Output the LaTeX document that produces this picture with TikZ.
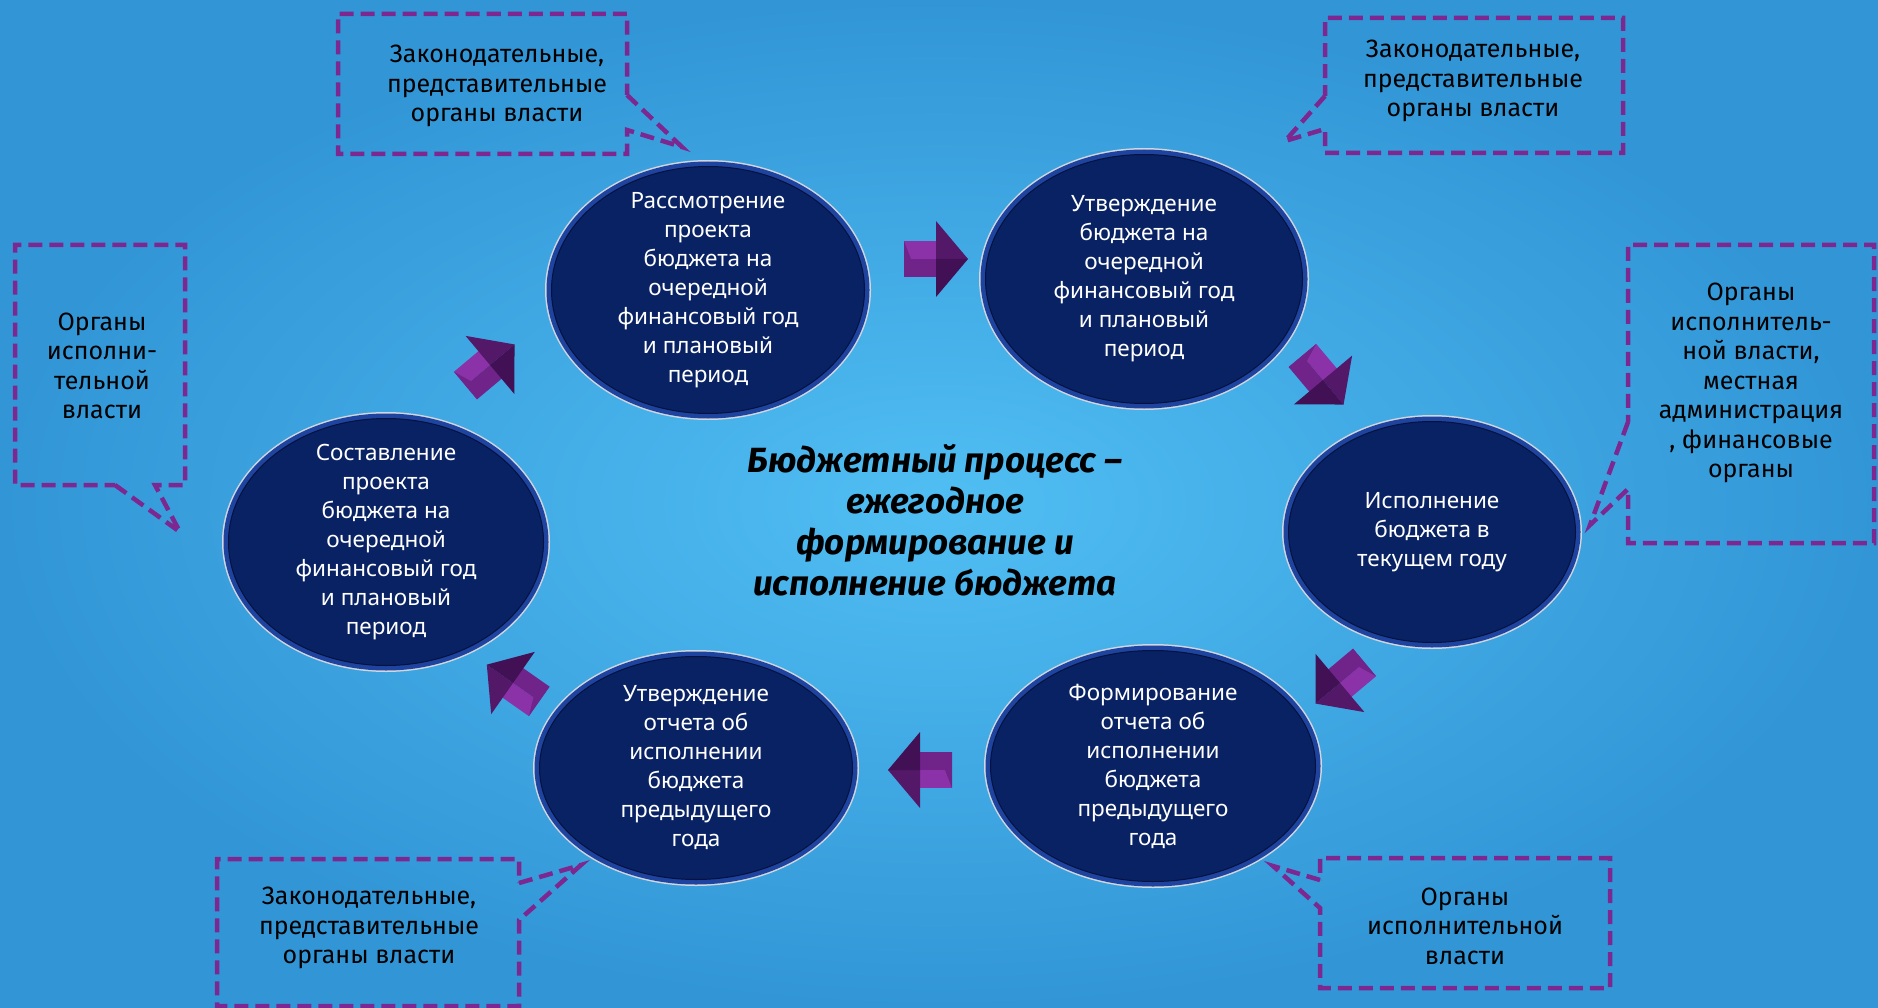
\documentclass[tikz,border=0pt]{standalone}
\usepackage{fontspec}
\usetikzlibrary{shapes.geometric}

\newfontfamily\stagefont{Noto Sans}
\newfontfamily\callfont{Fira Sans}
\newfontfamily\titlefont{Fira Sans}

\definecolor{bginner}{RGB}{80,190,243}
\definecolor{bgouter}{RGB}{50,150,214}
\definecolor{navyfill}{RGB}{9,34,100}
\definecolor{navyline}{RGB}{4,18,62}
\definecolor{ringblue}{RGB}{30,68,160}
\definecolor{rimgray}{RGB}{210,214,222}
\definecolor{dashpurple}{RGB}{125,40,145}
\definecolor{arrowlight}{RGB}{140,50,168}
\definecolor{arrowmid}{RGB}{112,36,138}
\definecolor{arrowdark}{RGB}{84,24,104}
\definecolor{arrowdeep}{RGB}{66,16,84}

\newcommand{\budgetarrow}[3]{%
  \begin{scope}[shift={(#1,#2)}, rotate=#3]
    \fill[arrowlight] (-32,-18) rectangle (2,0);
    \fill[arrowmid] (-32,0) rectangle (2,18);
    \fill[arrowmid] (-32,-18) -- (-25,0) -- (-32,18) -- cycle;
    \fill[arrowdark] (0,-38) -- (32,0) -- (0,0) -- cycle;
    \fill[arrowdeep] (0,0) -- (32,0) -- (0,38) -- cycle;
  \end{scope}}

\tikzset{
  stage/.style={ellipse, inner sep=0pt, fill=navyfill, draw=navyline, line width=1pt,
    preaction={draw=rimgray, line width=13pt},
    preaction={draw=ringblue, line width=10pt}},
  stagetext/.style={text=white, align=center, font=\stagefont\fontsize{22.5}{29}\selectfont},
  calltext/.style={align=center, font=\callfont\fontsize{25}{29.5}\selectfont},
  titletext/.style={align=center, font=\titlefont\bfseries\itshape\fontsize{35}{41}\selectfont},
  callout/.style={draw=dashpurple, line width=4.5pt, dash pattern=on 14pt off 7pt}
}

\begin{document}
\begin{tikzpicture}[x=1pt, y=-1pt]
\useasboundingbox (0,0) rectangle (1878,1008);
\shade[inner color=bginner, outer color=bgouter] (0,0) rectangle (1878,1008);

% stages
\node[stage, minimum width=313, minimum height=247] (review) at (708,290) {};
\node[stage, minimum width=317, minimum height=249] (approve) at (1144,279) {};
\node[stage, minimum width=287, minimum height=221] (execute) at (1432,532) {};
\node[stage, minimum width=325, minimum height=231] (report) at (1153,766) {};
\node[stage, minimum width=313, minimum height=223] (repapprove) at (696,768) {};
\node[stage, minimum width=315, minimum height=247] (draft) at (386,542) {};

\node[stagetext] (reviewtext) at (review) {Рассмотрение\\проекта\\бюджета на\\очередной\\финансовый год\\и плановый\\период};
\node[stagetext] (approvetext) at (approve) {Утверждение\\бюджета на\\очередной\\финансовый год\\и плановый\\период};
\node[stagetext] (executetext) at (execute) {Исполнение\\бюджета в\\текущем году};
\node[stagetext] (reporttext) at (report) {Формирование\\отчета об\\исполнении\\бюджета\\предыдущего\\года};
\node[stagetext] (repapprovetext) at (repapprove) {Утверждение\\отчета об\\исполнении\\бюджета\\предыдущего\\года};
\node[stagetext] (drafttext) at (draft) {Составление\\проекта\\бюджета на\\очередной\\финансовый год\\и плановый\\период};

% block arrows
\budgetarrow{490}{365}{40}
\budgetarrow{936}{259}{0}
\budgetarrow{1323}{380}{-50}
\budgetarrow{1340}{683}{-140}
\budgetarrow{920}{770}{180}
\budgetarrow{513}{683}{145}

% callouts
\draw[callout] (627,95) -- (682,147) -- (627,130) -- (627,154) -- (338,154) -- (338,14) -- (627,14) -- cycle;
\draw[callout] (1325,96) -- (1285,141) -- (1325,129) -- (1325,153) -- (1623,153) -- (1623,18) -- (1325,18) -- cycle;
\draw[callout] (115,485) -- (180,532) -- (155,485) -- (185,485) -- (185,245) -- (15,245) -- (15,485) -- cycle;
\draw[callout] (1628,422) -- (1590,525) -- (1628,489) -- (1628,543) -- (1874,543) -- (1874,245) -- (1628,245) -- cycle;
\draw[callout] (519,883) -- (581,865) -- (519,920) -- (519,1006) -- (217,1006) -- (217,859) -- (519,859) -- cycle;
\draw[callout] (1320,880) -- (1273,866) -- (1320,908) -- (1320,988) -- (1610,988) -- (1610,858) -- (1320,858) -- cycle;

\node[calltext] (legis1) at (497,86) {Законодательные,\\представительные\\органы власти};
\node[calltext] (legis2) at (1473,81) {Законодательные,\\представительные\\органы власти};
\node[calltext] (exec1) at (102,366) {Органы\\исполни-\\тельной\\власти};
\node[calltext] (exec2) at (1751,383) {Органы\\исполнитель-\\ной власти,\\местная\\администрация\\, финансовые\\органы};
\node[calltext] (legis3) at (369,928) {Законодательные,\\представительные\\органы власти};
\node[calltext] (exec3) at (1465,926) {Органы\\исполнительной\\власти};

% title
\node[titletext] (title) at (935,520) {Бюджетный процесс –\\ежегодное\\формирование и\\исполнение бюджета};
\end{tikzpicture}
\end{document}
